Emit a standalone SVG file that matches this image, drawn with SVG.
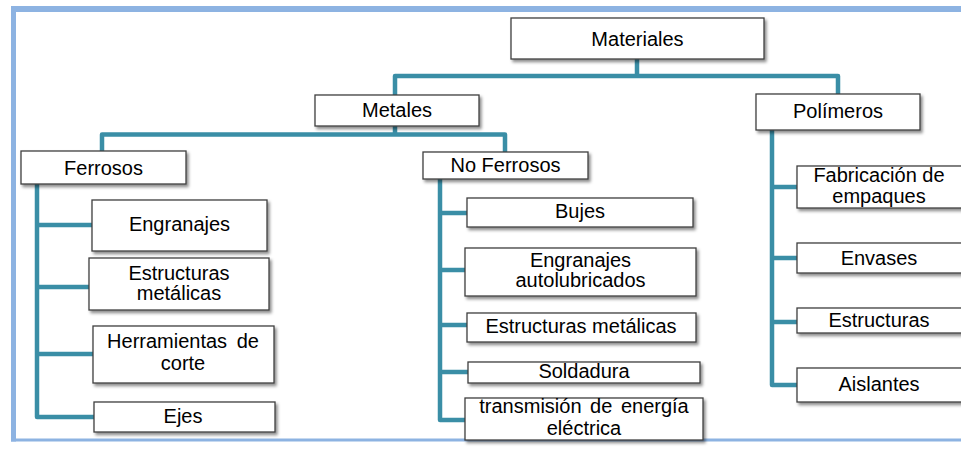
<svg xmlns="http://www.w3.org/2000/svg" width="961" height="449" viewBox="0 0 961 449">
  <defs>
    <filter id="shadow" x="-10%" y="-20%" width="130%" height="160%">
      <feDropShadow dx="2" dy="2.5" stdDeviation="1.5" flood-color="#000" flood-opacity="0.45"/>
    </filter>
  </defs>
  <style>
    .frame { fill: none; stroke: #8db3e2; }
    .link { fill: none; stroke: #3a8ea6; stroke-width: 4.5; stroke-linejoin: round; stroke-linecap: butt; }
    .box { fill: #ffffff; stroke: #3f3f3f; stroke-width: 1.3; filter: url(#shadow); }
    .label { font-family: "Liberation Sans", Arial, sans-serif; font-size: 20px; fill: #000; text-anchor: middle; }
  </style>

  <rect width="961" height="449" fill="#ffffff"/>

  <!-- outer frame -->
  <g id="frame">
    <line class="frame" x1="11" y1="9" x2="961" y2="9" stroke-width="6"/>
    <line class="frame" x1="13.5" y1="6" x2="13.5" y2="441.5" stroke-width="5"/>
    <line class="frame" x1="11" y1="440" x2="961" y2="440" stroke-width="3"/>
  </g>

  <!-- connectors -->
  <g id="connectors">
    <path class="link" d="M637,59 V76 M395,95 V76 H838 V94"/>
    <path class="link" d="M395,126 V134.5 M102,151 V134.5 H505 V152"/>
    <path class="link" d="M37,184 V417 H94 M37,225 H92 M37,287 H89 M37,354 H93"/>
    <path class="link" d="M440,179 V420 H465 M440,213 H467 M440,270 H465 M440,325 H467 M440,372 H468"/>
    <path class="link" d="M772,130 V385 H797 M772,187 H797 M772,258 H797 M772,322 H797"/>
  </g>

  <g id="materiales">
    <rect class="box" x="511" y="18" width="253" height="41"/>
    <text class="label" x="637.5" y="46">Materiales</text>
  </g>
  <g id="metales">
    <rect class="box" x="315" y="95" width="164" height="31"/>
    <text class="label" x="397" y="117">Metales</text>
  </g>
  <g id="polimeros">
    <rect class="box" x="756" y="94" width="164" height="36"/>
    <text class="label" x="838" y="118">Polímeros</text>
  </g>

  <g id="ferrosos">
    <rect class="box" x="21" y="151" width="165" height="33"/>
    <text class="label" x="103.5" y="175">Ferrosos</text>
  </g>
  <g id="no-ferrosos">
    <rect class="box" x="423" y="152" width="165" height="27"/>
    <text class="label" x="505.5" y="172">No Ferrosos</text>
  </g>

  <!-- Ferrosos applications -->
  <g id="f-engranajes">
    <rect class="box" x="92" y="200" width="175" height="51"/>
    <text class="label" x="179.5" y="231">Engranajes</text>
  </g>
  <g id="f-estructuras">
    <rect class="box" x="89" y="258" width="180" height="52"/>
    <text class="label" x="179" y="280">Estructuras</text>
    <text class="label" x="179" y="300">metálicas</text>
  </g>
  <g id="f-herramientas">
    <rect class="box" x="93" y="326" width="181" height="57"/>
    <text class="label" x="183" y="348" word-spacing="4">Herramientas de</text>
    <text class="label" x="183" y="370">corte</text>
  </g>
  <g id="f-ejes">
    <rect class="box" x="94" y="402" width="181" height="30"/>
    <text class="label" x="183" y="423">Ejes</text>
  </g>

  <!-- No Ferrosos applications -->
  <g id="nf-bujes">
    <rect class="box" x="467" y="198" width="226" height="29"/>
    <text class="label" x="580" y="218">Bujes</text>
  </g>
  <g id="nf-engranajes">
    <rect class="box" x="465" y="248" width="231" height="48"/>
    <text class="label" x="580.5" y="267">Engranajes</text>
    <text class="label" x="580.5" y="287">autolubricados</text>
  </g>
  <g id="nf-estructuras">
    <rect class="box" x="467" y="313" width="229" height="29"/>
    <text class="label" x="581" y="333">Estructuras metálicas</text>
  </g>
  <g id="nf-soldadura">
    <rect class="box" x="468" y="362" width="232" height="21"/>
    <text class="label" x="584" y="378">Soldadura</text>
  </g>
  <g id="nf-transmision">
    <rect class="box" x="465" y="398" width="238" height="42"/>
    <text class="label" x="584" y="413" word-spacing="3">transmisión de energía</text>
    <text class="label" x="584" y="435">eléctrica</text>
  </g>

  <!-- Polímeros applications -->
  <g id="p-empaques">
    <rect class="box" x="797" y="166" width="165" height="42"/>
    <text class="label" x="879" y="182">Fabricación de</text>
    <text class="label" x="879" y="203">empaques</text>
  </g>
  <g id="p-envases">
    <rect class="box" x="797" y="243" width="165" height="30"/>
    <text class="label" x="879" y="265">Envases</text>
  </g>
  <g id="p-estructuras">
    <rect class="box" x="797" y="308" width="165" height="25"/>
    <text class="label" x="879" y="327">Estructuras</text>
  </g>
  <g id="p-aislantes">
    <rect class="box" x="797" y="368" width="165" height="34"/>
    <text class="label" x="879" y="391">Aislantes</text>
  </g>
</svg>
